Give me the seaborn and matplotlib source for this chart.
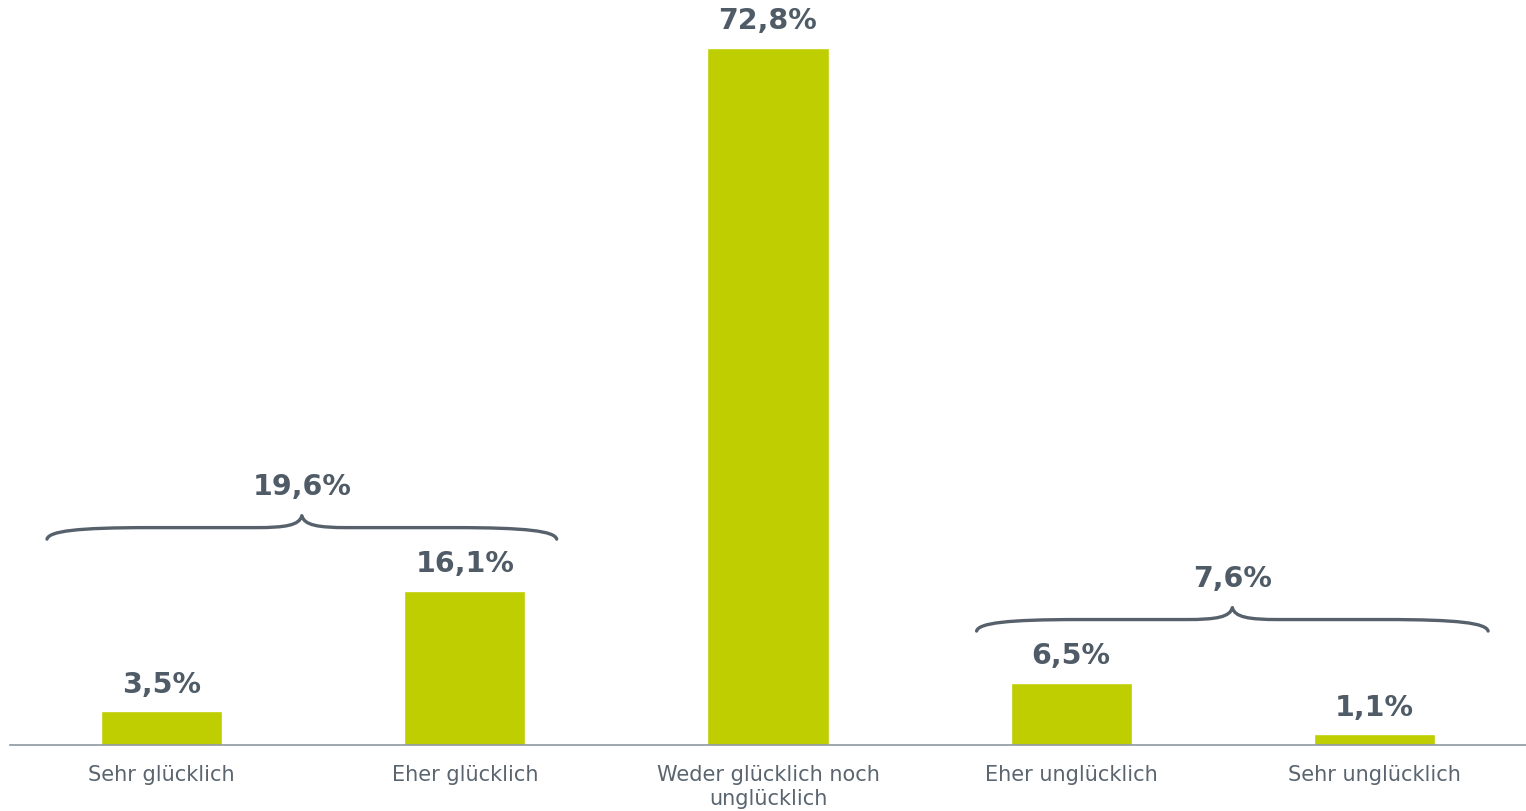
import numpy as np
import pandas as pd
import seaborn as sns
import matplotlib.pyplot as plt
from matplotlib.path import Path
from matplotlib.patches import PathPatch

categories = ["Sehr glücklich", "Eher glücklich", "Weder glücklich noch\nunglücklich",
              "Eher unglücklich", "Sehr unglücklich"]
values = [3.5, 16.1, 72.8, 6.5, 1.1]
group_labels = ["19,6%", "7,6%"]
group_members = [(0, 1), (3, 4)]

bar_color = "#BFCE00"
text_color = "#4F5B66"
axis_color = "#8E98A1"

sns.set_style("white")
plt.rcParams['font.family'] = ['DejaVu Sans']

df = pd.DataFrame({"cat": categories, "val": values})

fig = plt.figure(figsize=(15.26, 8.12), dpi=100)
ax = fig.add_axes([10 / 1526, 66 / 812, 1516 / 1526, 746 / 812])
sns.barplot(data=df, x="cat", y="val", color=bar_color, saturation=1, width=0.4, ax=ax)

ax.set_xlim(-0.5, 4.5)
ax.set_ylim(0, 77.9)
ax.set_xlabel("")
ax.set_ylabel("")
ax.set_yticks([])
for s in ["top", "right", "left"]:
    ax.spines[s].set_visible(False)
ax.spines["bottom"].set_color(axis_color)
ax.spines["bottom"].set_linewidth(1.2)

ax.set_xticks(range(len(categories)))
ax.set_xticklabels(categories, fontsize=15, color="#5A6570", linespacing=1.2)
ax.set_xticks(np.arange(-0.5, len(categories), 1.0), minor=True)
ax.tick_params(axis="x", which="major", length=0, pad=14)
ax.tick_params(axis="x", which="minor", length=7, width=1, color=axis_color, direction="out")

labels = [f"{v:.1f}%".replace(".", ",") for v in values]
ax.bar_label(ax.containers[0], labels=labels, padding=10, fontsize=20.5,
             fontweight="bold", color=text_color)


def brace(ax, x0, x1, y0, yf, yt):
    xm = (x0 + x1) / 2
    d = 0.4 * (xm - x0)
    e = 0.18 * (xm - x0)
    verts = [
        (x0, y0),
        (x0 + 0.02 * d, y0 + 0.7 * (yf - y0)), (x0 + 0.3 * d, yf), (x0 + d, yf),
        (xm - e, yf),
        (xm - 0.35 * e, yf), (xm - 0.05 * e, yf + 0.2 * (yt - yf)), (xm, yt),
        (xm + 0.05 * e, yf + 0.2 * (yt - yf)), (xm + 0.35 * e, yf), (xm + e, yf),
        (x1 - d, yf),
        (x1 - 0.3 * d, yf), (x1 - 0.02 * d, y0 + 0.7 * (yf - y0)), (x1, y0),
    ]
    codes = [Path.MOVETO] + [Path.CURVE4] * 3 + [Path.LINETO] + [Path.CURVE4] * 6 \
        + [Path.LINETO] + [Path.CURVE4] * 3
    ax.add_patch(PathPatch(Path(verts, codes), fill=False, lw=2.4,
                           edgecolor="#56616C", capstyle="round", joinstyle="round"))
    return xm


# brace spans and heights
spans = [(-0.378, 1.303), (2.688, 4.375)]
for (a, b), (x0, x1), lab in zip(group_members, spans, group_labels):
    top = max(values[a], values[b])
    y0 = top + 5.4
    yf = y0 + 1.2
    yt = yf + 1.25
    xm = brace(ax, x0, x1, y0, yf, yt)
    ax.text(xm, yt + 1.6, lab, ha="center", va="bottom", fontsize=20.5,
            fontweight="bold", color=text_color)

fig.savefig("out.png", dpi=100)
